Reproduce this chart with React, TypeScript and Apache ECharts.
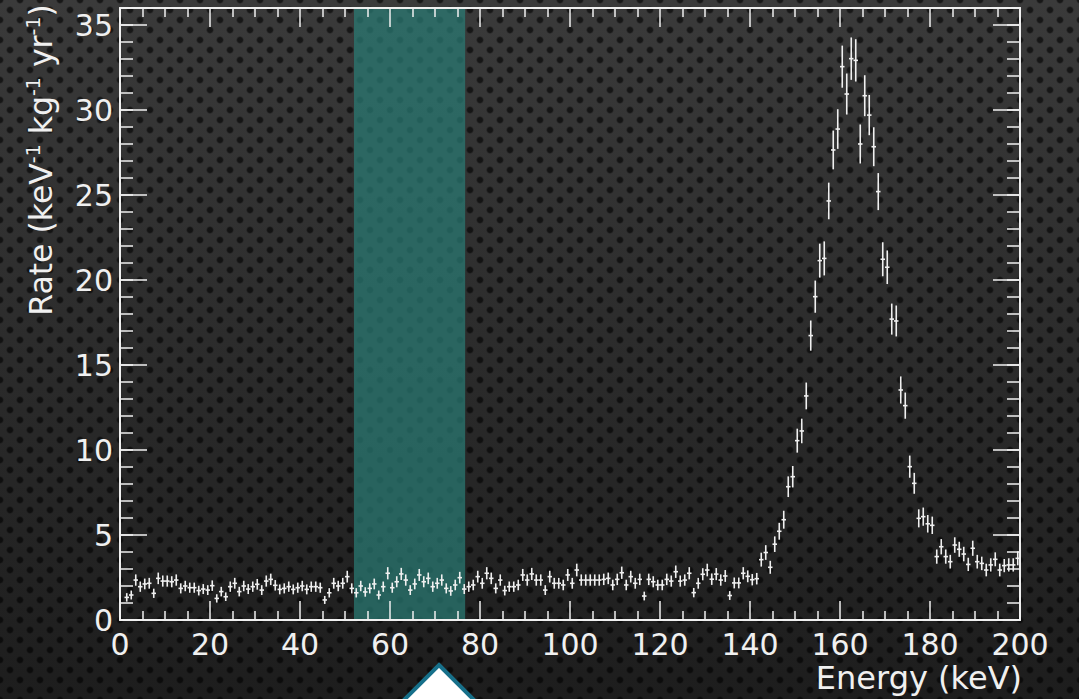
import React, { useEffect, useRef } from "react";
import * as echarts from "echarts";

// ---- data (rate per 1 keV bin, first visible bin starts at 1 keV) ----
const FIRST_BIN = 1;
const BIN_WIDTH = 1;
const rateBins1to50 = [
  1.33, 1.47, 2.35, 1.96, 2.12, 2.16, 1.57, 2.45, 2.29, 2.29,
  2.25, 2.35, 1.86, 2.0, 1.9, 1.9, 1.73, 1.82, 1.76, 2.02,
  1.27, 1.67, 1.37, 1.96, 2.16, 1.67, 2.0, 1.82, 1.96, 2.1,
  1.76, 2.29, 2.39, 2.04, 1.8, 1.86, 1.96, 1.8, 1.9, 2.0,
  1.8, 1.96, 1.96, 1.9, 1.18, 1.6, 2.16, 2.0, 2.16, 2.55,
];
const rateBins51to100 = [
  1.86, 1.6, 2.0, 1.65, 1.86, 2.12, 1.47, 1.96, 2.75, 1.9,
  2.25, 2.71, 2.35, 1.76, 2.12, 2.65, 2.25, 2.45, 1.96, 2.16,
  2.35, 1.86, 1.71, 2.06, 2.49, 1.82, 1.96, 2.06, 2.55, 2.16,
  2.75, 2.45, 1.86, 2.35, 1.73, 1.96, 1.96, 2.06, 2.65, 2.35,
  2.71, 2.35, 2.35, 1.76, 2.55, 2.16, 2.16, 2.06, 2.65, 2.16,
];
const rateBins101to147 = [
  2.94, 2.35, 2.35, 2.35, 2.35, 2.35, 2.39, 2.45, 2.06, 2.39,
  2.78, 2.06, 2.55, 2.16, 2.39, 1.41, 2.39, 2.25, 2.06, 2.06,
  2.39, 2.29, 2.84, 2.29, 2.35, 2.75, 1.61, 2.16, 2.69, 2.94,
  2.4, 2.7, 2.35, 2.59, 1.44, 2.18, 2.18, 2.75, 2.57, 2.37,
  2.43, 3.55, 3.97, 3.1, 4.46, 5.22, 5.9,
];
const rateBins148to199 = [
  7.84, 8.43, 10.55, 11.12, 13.18, 16.73, 19.02, 21.14, 21.27, 24.65,
  27.65, 28.88, 32.55, 30.94, 33.02, 32.92, 28.0, 30.84, 29.7, 27.84,
  25.2, 21.22, 20.75, 17.7, 17.59, 13.53, 12.61, 9.02, 8.04, 5.98,
  6.08, 5.66, 5.57, 3.73, 4.31, 3.73, 3.43, 4.41, 4.16, 3.88,
  3.27, 4.22, 3.43, 3.33, 2.94, 3.24, 3.57, 2.94, 3.2, 3.24,
  3.24, 3.63,
];
// statistical (Poisson-like) error scale: err = ERR_SCALE * sqrt(rate)
const ERR_SCALE = 0.217;

const xTicks = { min: 0, max: 200, interval: 20 };
const yTicks = { min: 0, max: 36, interval: 5, labelMax: 35 };
const highlightBand = [52, 76.7];

const xTitle = "Energy (keV)";
const yTitle = "Rate (keV{s|-1} kg{s|-1} yr{s|-1})";

const FONT = "DejaVu Sans";
const WHITE = "#f0f0f0";

export default function App() {
  const ref = useRef<HTMLDivElement>(null);
  useEffect(() => {
    if (!ref.current) return;
    const chart = echarts.init(ref.current, undefined, { renderer: "svg" });
    const rate = [...rateBins1to50, ...rateBins51to100, ...rateBins101to147, ...rateBins148to199];
    const points = rate.map((v, i) => [FIRST_BIN + i * BIN_WIDTH + BIN_WIDTH / 2, v, ERR_SCALE * Math.sqrt(v)]);

    const lineStyle = { color: WHITE, width: 1.5 };
    const xAxisBase = (pos: string, labels: boolean) => ({
      type: "value",
      position: pos,
      min: xTicks.min,
      max: xTicks.max,
      interval: xTicks.interval,
      axisLine: { show: true, onZero: false, lineStyle: { color: WHITE, width: 2 } },
      axisTick: { show: true, inside: true, length: 19, lineStyle },
      minorTick: { show: true, splitNumber: 4, length: 9, lineStyle },
      splitLine: { show: false },
      minorSplitLine: { show: false },
      axisLabel: labels
        ? { show: true, color: WHITE, fontFamily: FONT, fontSize: 30, margin: 9 }
        : { show: false },
    });
    const yAxisBase = (pos: string, interval: number, len: number, labels: boolean, line: boolean) => ({
      type: "value",
      position: pos,
      min: yTicks.min,
      max: yTicks.max,
      interval,
      axisLine: { show: line, onZero: false, lineStyle: { color: WHITE, width: 2 } },
      axisTick: { show: true, inside: true, length: len, lineStyle },
      splitLine: { show: false },
      axisLabel: labels
        ? {
            show: true,
            color: WHITE,
            fontFamily: FONT,
            fontSize: 30,
            margin: 7,
            formatter: (v: number) => (v > yTicks.labelMax ? "" : String(v)),
          }
        : { show: false },
    });

    chart.setOption({
      animation: false,
      backgroundColor: "transparent",
      grid: { left: 120, right: 59, top: 8, bottom: 79, containLabel: false },
      xAxis: [xAxisBase("bottom", true), xAxisBase("top", false)],
      yAxis: [
        yAxisBase("left", yTicks.interval, 27, true, true),
        yAxisBase("left", 1, 13, false, false),
        yAxisBase("right", yTicks.interval, 27, false, true),
        yAxisBase("right", 1, 13, false, false),
      ],
      series: [
        {
          type: "custom",
          z: -1,
          xAxisIndex: 0,
          yAxisIndex: 0,
          silent: true,
          data: [highlightBand],
          renderItem: (params: any, api: any) => {
            const p0 = api.coord([api.value(0), yTicks.max]);
            const p1 = api.coord([api.value(1), yTicks.min]);
            return {
              type: "rect",
              shape: { x: p0[0], y: p0[1], width: p1[0] - p0[0], height: p1[1] - p0[1] },
              style: { fill: "rgba(41,124,117,0.72)" },
            };
          },
        },
        {
          type: "custom",
          xAxisIndex: 0,
          yAxisIndex: 0,
          silent: true,
          data: points,
          renderItem: (params: any, api: any) => {
            const x = api.value(0);
            const v = api.value(1);
            const e = api.value(2);
            const c = api.coord([x, v]);
            const t = api.coord([x, v + e]);
            const b = api.coord([x, v - e]);
            const l = api.coord([x - BIN_WIDTH / 2, v]);
            const r = api.coord([x + BIN_WIDTH / 2, v]);
            const st = { stroke: WHITE, lineWidth: 1.6 };
            return {
              type: "group",
              children: [
                { type: "line", shape: { x1: c[0], y1: t[1], x2: c[0], y2: b[1] }, style: st },
                { type: "line", shape: { x1: l[0], y1: c[1], x2: r[0], y2: c[1] }, style: st },
              ],
            };
          },
        },
      ],
      graphic: [
        {
          type: "text",
          x: 41,
          y: 160,
          rotation: Math.PI / 2,
          style: {
            text: yTitle,
            font: `31.5px "${FONT}"`,
            fill: WHITE,
            align: "center",
            verticalAlign: "middle",
            lineHeight: 35,
            rich: {
              s: { fontSize: 19, fontFamily: FONT, fill: WHITE, verticalAlign: "top", lineHeight: 19 },
            },
          },
        },
        {
          type: "text",
          x: 1022,
          y: 678,
          style: {
            text: xTitle,
            font: `32px "${FONT}"`,
            fill: WHITE,
            align: "right",
            verticalAlign: "middle",
          },
        },
        {
          type: "polygon",
          shape: { points: [[439, 665], [482, 708], [396, 708]] },
          style: { fill: "#ffffff", stroke: "#17708a", lineWidth: 4 },
        },
      ],
    });
    return () => chart.dispose();
  }, []);

  return (
    <div
      ref={ref}
      style={{
        position: "fixed",
        left: 0,
        top: 0,
        width: 1079,
        height: 699,
        backgroundColor: "#2a2a2a",
        backgroundImage:
          "radial-gradient(circle, rgba(0,0,0,0.6) 2.4px, rgba(0,0,0,0) 4px), radial-gradient(circle, rgba(0,0,0,0.6) 2.4px, rgba(0,0,0,0) 4px), linear-gradient(#3a3a3a, #1d1d1d)",
        backgroundSize: "20px 20px, 20px 20px, 100% 100%",
        backgroundPosition: "0 0, 10px 10px, 0 0",
      }}
    />
  );
}
